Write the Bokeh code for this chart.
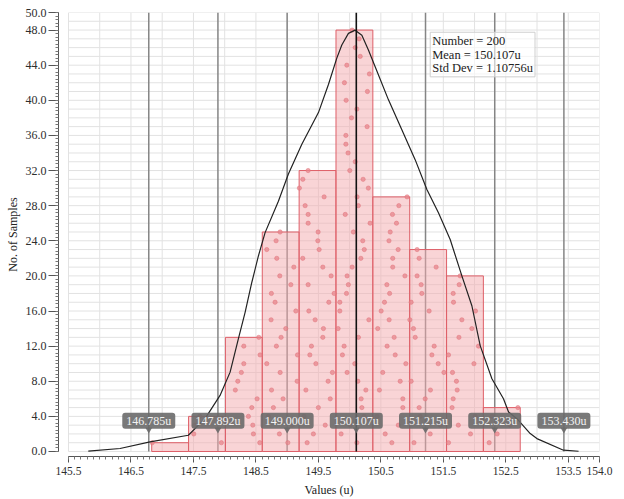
import numpy as np
from bokeh.plotting import figure
from bokeh.models import Range1d, FixedTicker, NumeralTickFormatter, Label
from bokeh.embed import file_html
from bokeh.resources import INLINE

# ---------------- data ----------------
bin_edges = [146.832, 147.422, 148.012, 148.602, 149.192, 149.782,
             150.372, 150.962, 151.552, 152.141, 152.731]
counts = [1, 4, 13, 25, 32, 48, 29, 23, 20, 5]

# sample values, per bin, in stacking order (level 1, 2, ...)
bin1 = [146.84]
bin2 = [147.947, 147.505, 147.52, 147.60]
bin3 = [148.562, 148.460, 148.450, 148.380, 148.434, 148.519, 148.171,
        148.210, 148.267, 148.306, 148.567, 148.306, 148.546]
bin4 = [149.011, 148.876, 149.08, 148.70, 148.78, 148.935, 148.75, 149.16,
        148.888, 148.674, 149.166, 148.828, 148.903, 148.978, 148.743,
        149.139, 148.807, 148.748, 149.059, 148.882, 149.107, 148.834,
        148.674, 148.823, 148.887]
bin5 = [149.32, 149.42, 149.61, 149.27, 149.50, 149.69, 149.30, 149.656,
        149.725, 149.46, 149.363, 149.389, 149.571, 149.581, 149.448,
        149.347, 149.667, 149.752, 149.336, 149.704, 149.571, 149.25,
        149.512, 149.491, 149.496, 149.336, 149.336, 149.288, 149.592,
        149.196, 149.251, 149.336]
bin6 = [150.116, 149.864, 150.008, 150.23, 150.196, 150.185, 150.26,
        150.132, 149.96, 150.083, 149.885, 149.912, 150.141, 149.816,
        150.308, 149.843, 149.843, 149.95, 149.98, 149.96, 150.04, 150.18,
        150.235, 150.21, 150.06, 150.328, 149.93, 150.14, 150.12, 150.30,
        150.216, 150.003, 150.09, 149.975, 149.94, 149.94, 150.28, 150.03,
        150.116, 149.944, 150.285, 149.917, 150.317, 149.955, 150.17,
        150.09, 150.153, 150.04]
bin7 = [150.676, 150.57, 150.78, 150.44, 150.852, 150.852, 150.477,
        150.81, 150.53, 150.90, 150.73, 150.60, 150.713, 150.45, 150.633,
        150.505, 150.558, 150.64, 150.596, 150.885, 150.69, 150.69,
        150.777, 150.63, 150.65, 150.75, 150.686, 150.788, 150.92]
bin8 = [151.03, 151.29, 151.45, 151.13, 151.113, 151.21, 151.294,
        150.985, 151.51, 151.418, 151.317, 151.354, 151.05, 151.022,
        150.964, 151.273, 150.985, 151.156, 151.145, 151.08, 151.385,
        151.113, 151.08]
bin9 = [151.583, 151.935, 151.74, 152.01, 151.64, 151.658, 151.722,
        151.71, 151.647, 151.99, 151.583, 152.063, 151.75, 151.957,
        151.797, 152.015, 151.663, 151.658, 151.754, 151.77]
bin10 = [152.234, 152.362, 152.57, 152.28, 152.694]
samples_by_bin = [bin1, bin2, bin3, bin4, bin5, bin6, bin7, bin8, bin9, bin10]

curve_x = [145.817, 146.325, 146.805, 147.419, 147.686, 147.926, 148.087,
           148.219, 148.327, 148.434, 148.540, 148.647, 148.860, 149.020,
           149.235, 149.501, 149.661, 149.795, 149.875, 149.981, 150.088,
           150.196, 150.301, 150.409, 150.622, 150.836, 151.049, 151.237,
           151.422, 151.610, 151.797, 151.957, 152.090, 152.278, 152.463,
           152.544, 152.678, 152.891, 152.998, 153.424, 153.665]
curve_y = [0.05, 0.34, 1.10, 1.85, 3.74, 6.39, 9.04, 12.82, 15.85, 19.25,
           22.27, 24.93, 28.51, 31.60, 35.00, 38.60, 41.80, 44.80, 46.30,
           47.62, 47.99, 47.42, 45.72, 43.83, 40.05, 36.65, 33.24, 29.84,
           27.20, 24.14, 20.00, 16.60, 12.06, 8.28, 6.01, 4.50, 3.74, 2.04,
           1.47, 0.15, 0.03]

mean_value = 150.107
sigma_values = [146.785, 147.892, 149.000, 151.215, 152.323, 153.430]
marker_values = [146.785, 147.892, 149.000, 150.107, 151.215, 152.323, 153.430]
marker_labels = ["146.785u", "147.892u", "149.000u", "150.107u",
                 "151.215u", "152.323u", "153.430u"]

x_ticks = [145.5, 146.5, 147.5, 148.5, 149.5, 150.5, 151.5, 152.5, 153.5, 154.0]
y_ticks = [0, 4, 8, 12, 16, 20, 24, 28, 32, 36, 40, 44, 48, 50]
stats_lines = ["Number = 200", "Mean = 150.107u", "Std Dev = 1.10756u"]

# ---------------- layout / style ----------------
FONT = "Liberation Serif"
X0, X1 = 145.5, 154.0
Y0, Y1 = 0.0, 50.0
label_level = 3.5

p = figure(width=624, height=499, output_backend="svg", toolbar_location=None,
           x_range=Range1d(X0 - 0.16, X1), y_range=Range1d(Y0 - 0.57, Y1),
           min_border_left=58, min_border_right=25, min_border_top=12,
           min_border_bottom=40)
p.outline_line_color = None
p.xgrid.visible = False
p.ygrid.visible = False
p.background_fill_color = "white"

# grid lines restricted to the data area
gx = np.arange(X0, X1 + 1e-9, 0.5)
gy = np.arange(Y0, Y1 + 1e-9, 1.0)
p.segment(x0=gx, y0=Y0, x1=gx, y1=Y1, line_color="#e2e2e2", line_width=1)
p.segment(x0=X0, y0=gy, x1=X1, y1=gy, line_color="#e2e2e2", line_width=1)

# sigma lines
p.segment(x0=sigma_values, y0=Y0, x1=sigma_values, y1=Y1,
          line_color="#858585", line_width=1.5)

# histogram
p.quad(left=bin_edges[:-1], right=bin_edges[1:], bottom=0, top=counts,
       fill_color="#f3a9ae", fill_alpha=0.5, line_color="#de5f68", line_width=1)

# sample dots
dx, dy = [], []
for vals in samples_by_bin:
    for k, v in enumerate(vals):
        dx.append(v)
        dy.append(k + 1)
p.scatter(dx, dy, size=4.3, fill_color="#e8868c", fill_alpha=0.75,
          line_color="#e07078", line_width=0.6, line_alpha=0.8)

# curve
p.line(curve_x, curve_y, line_color="#222222", line_width=1.2)

# mean line
p.segment(x0=[mean_value], y0=Y0, x1=[mean_value], y1=Y1,
          line_color="#111111", line_width=1.6)

# marker labels
p.scatter(marker_values, [label_level - 1.0] * len(marker_values),
          marker="inverted_triangle", size=7, fill_color="#6a6a6a",
          line_color=None, fill_alpha=0.9)
for xv, txt in zip(marker_values, marker_labels):
    p.add_layout(Label(x=xv, y=label_level, text=txt, text_align="center",
                       text_baseline="middle", text_font=FONT,
                       text_font_size="12px", text_color="#f2f2f2",
                       background_fill_color="#6a6a6a",
                       background_fill_alpha=0.9, border_radius=3,
                       padding=(4, 1)))

# stats box
p.add_layout(Label(x=151.29, y=47.75, text="\n".join(stats_lines),
                   text_align="left", text_baseline="top", text_font=FONT,
                   text_font_size="12.5px", text_color="#222222",
                   text_line_height=0.95,
                   background_fill_color="white", background_fill_alpha=0.6,
                   border_line_color="#cfcfcf", border_line_width=1,
                   padding=2))

# axes
for ax in (p.xaxis[0], p.yaxis[0]):
    ax.axis_line_color = "#555555"
    ax.major_tick_line_color = "#555555"
    ax.minor_tick_line_color = "#777777"
    ax.major_tick_in = 0
    ax.minor_tick_in = 0
    ax.major_label_text_font = FONT
    ax.major_label_text_color = "#2e2e2e"
    ax.axis_label_text_font = FONT
    ax.axis_label_text_font_size = "12px"
    ax.axis_label_text_font_style = "normal"
    ax.axis_label_text_color = "#222222"
    ax.formatter = NumeralTickFormatter(format="0.0")

xa = p.xaxis[0]
xa.ticker = FixedTicker(ticks=x_ticks,
                        minor_ticks=list(np.round(np.arange(X0, X1 + 1e-9, 0.1), 3)))
xa.bounds = (X0, X1)
xa.major_label_text_font_size = "11.5px"
xa.major_tick_out = 6
xa.minor_tick_out = 3
xa.major_label_standoff = 4
xa.axis_label = "Values (u)"
xa.axis_label_standoff = 5

ya = p.yaxis[0]
ya.ticker = FixedTicker(ticks=y_ticks,
                        minor_ticks=list(np.round(np.arange(Y0, Y1 + 1e-9, 0.4), 3)))
ya.bounds = (Y0, Y1)
ya.major_label_text_font_size = "12px"
ya.major_tick_out = 10
ya.minor_tick_out = 3
ya.major_label_standoff = 2
ya.axis_label = "No. of Samples"
ya.axis_label_standoff = 3

open("out.html", "w").write(file_html(p, INLINE))
